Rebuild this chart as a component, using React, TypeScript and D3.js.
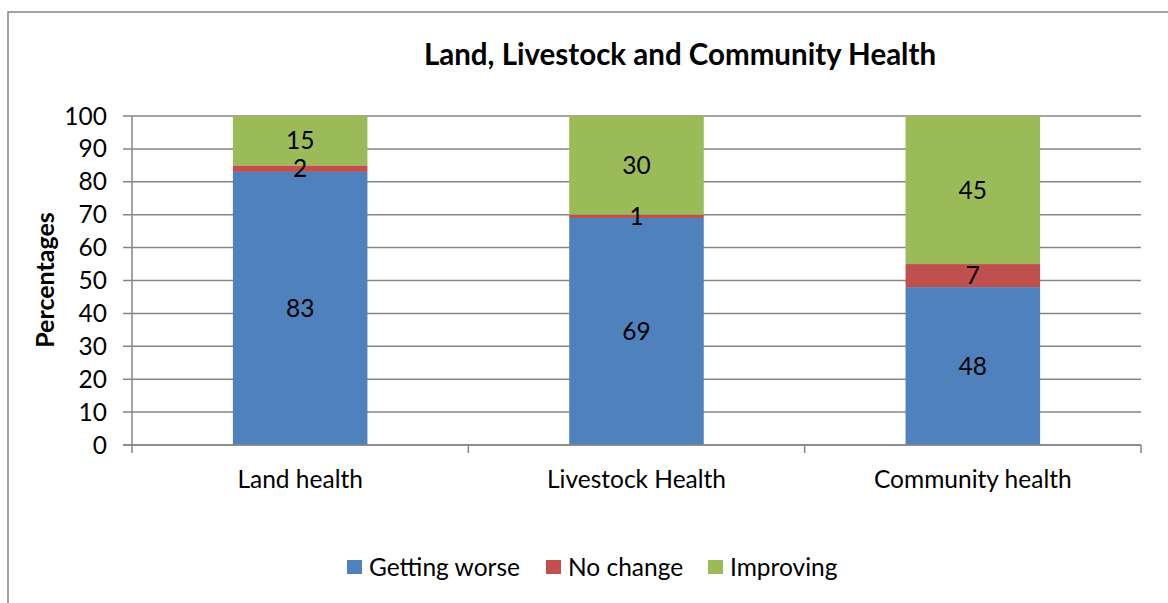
import React from "react";
import * as d3 from "d3";

const categories = ["Land health", "Livestock Health", "Community health"];
const seriesNames = ["Getting worse", "No change", "Improving"];
const gettingWorse = [83, 69, 48];
const noChange = [2, 1, 7];
const improving = [15, 30, 45];
const yTicks = [0, 10, 20, 30, 40, 50, 60, 70, 80, 90, 100];
const colors = ["#4F81BD", "#C0504D", "#9BBB59"];

const FONT = "Lato, 'Open Sans', sans-serif";

export default function App() {
  const W = 1168, H = 603;
  const left = 132, right = 1141, top = 116, bottom = 445;
  const x = d3.scaleBand<string>().domain(categories).range([left, right]).paddingInner(0.6).paddingOuter(0.3);
  const xb = d3.scaleBand<string>().domain(categories).range([left, right]);
  const y = d3.scaleLinear().domain([0, 100]).range([bottom, top]);
  const series = [gettingWorse, noChange, improving];
  const rows = categories.map((c, i) => ({ cat: c, "Getting worse": gettingWorse[i], "No change": noChange[i], Improving: improving[i] }));
  const stack = d3.stack<any>().keys(seriesNames)(rows);

  const legendX = [347, 546, 708];
  const FS = 24.5;

  return (
    <div style={{ position: "absolute", left: 0, top: 0 }}>
      <svg width={W} height={H} style={{ display: "block" }}>
        <rect x={0} y={0} width={W} height={H} fill="#fff" />
        <rect x={8} y={12} width={W + 10} height={H + 10} fill="none" stroke="#868686" strokeWidth={1.5} />
        <text x={680} y={65} textAnchor="middle" fontFamily={FONT} fontWeight="bold" fontSize={29.5} fill="#000">
          Land, Livestock and Community Health
        </text>
        {yTicks.map((t) => (
          <g key={t}>
            <line x1={123} x2={right} y1={y(t)} y2={y(t)} stroke="#868686" strokeWidth={1.5} />
            <text x={107} y={y(t) + 8.5} textAnchor="end" fontFamily={FONT} fontSize={FS} fill="#000">{t}</text>
          </g>
        ))}
        <line x1={left} x2={left} y1={top} y2={bottom + 8} stroke="#868686" strokeWidth={1.5} />
        {categories.map((c, i) => (
          <line key={"t" + i} x1={xb(c)! + xb.bandwidth()} x2={xb(c)! + xb.bandwidth()} y1={bottom} y2={bottom + 8} stroke="#868686" strokeWidth={1.5} />
        ))}
        {stack.map((s, si) =>
          s.map((d, i) => (
            <rect key={si + "-" + i} x={x(categories[i])} width={x.bandwidth()} y={y(d[1])} height={y(d[0]) - y(d[1])} fill={colors[si]} />
          ))
        )}
        {stack.map((s, si) =>
          s.map((d, i) => (
            <text key={"l" + si + "-" + i} x={x(categories[i])! + x.bandwidth() / 2} y={y((d[0] + d[1]) / 2) + 8.5} textAnchor="middle" fontFamily={FONT} fontSize={FS} fill="#000">
              {series[si][i]}
            </text>
          ))
        )}
        <line x1={123} x2={right} y1={bottom} y2={bottom} stroke="#868686" strokeWidth={1.5} />
        {categories.map((c) => (
          <text key={c} x={xb(c)! + xb.bandwidth() / 2} y={488} textAnchor="middle" fontFamily={FONT} fontSize={FS} fill="#000">{c}</text>
        ))}
        <text transform="translate(54,280) rotate(-90)" textAnchor="middle" fontFamily={FONT} fontWeight="bold" fontSize={25} fill="#000">Percentages</text>
        {seriesNames.map((n, i) => (
          <g key={n}>
            <rect x={legendX[i]} y={560} width={15} height={14} fill={colors[i]} />
            <text x={legendX[i] + 22} y={576} fontFamily={FONT} fontSize={FS} fill="#000">{n}</text>
          </g>
        ))}
      </svg>
    </div>
  );
}
